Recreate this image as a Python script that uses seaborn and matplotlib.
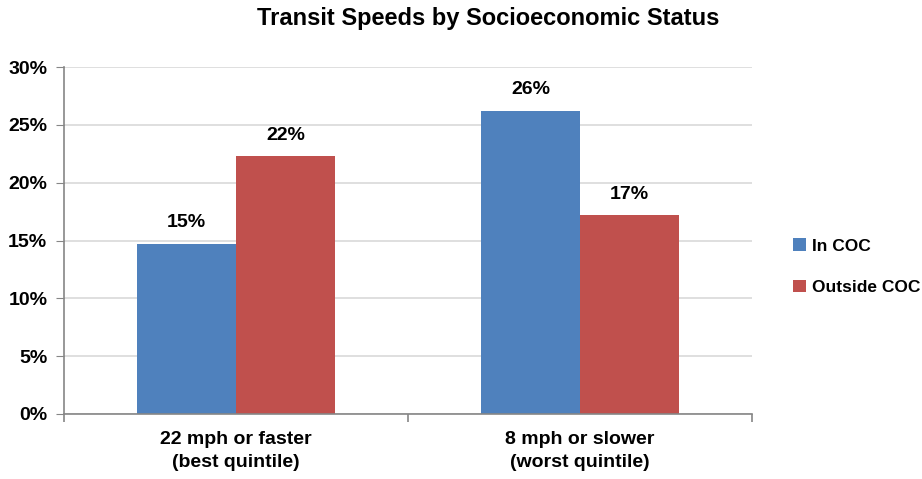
import pandas as pd
import matplotlib
matplotlib.use("Agg")
import matplotlib.pyplot as plt
import seaborn as sns
from matplotlib.ticker import FixedLocator, PercentFormatter

# データ
categories = ["22 mph or faster\n(best quintile)", "8 mph or slower\n(worst quintile)"]
groups = ["In COC", "Outside COC"]
in_coc = [14.7, 26.2]
outside_coc = [22.3, 17.2]
bar_labels_in = ["15%", "26%"]
bar_labels_out = ["22%", "17%"]
colors = ["#4F81BD", "#C0504D"]

sns.set_style("white")
plt.rcParams["font.family"] = ["Liberation Sans", "DejaVu Sans"]
plt.rcParams["text.color"] = "black"
plt.rcParams["xtick.color"] = "black"
plt.rcParams["ytick.color"] = "black"

df = pd.DataFrame({
    "category": categories * 2,
    "group": [groups[0]] * 2 + [groups[1]] * 2,
    "value": in_coc + outside_coc,
})

fig = plt.figure(figsize=(9.22, 4.79), dpi=100)
ax = fig.add_axes([64 / 922, 65 / 479, 688 / 922, 347 / 479])

sns.barplot(data=df, x="category", y="value", hue="group", palette=colors,
            width=0.576, saturation=1, linewidth=0, ax=ax, legend=True)

# 値ラベル
for cont, labs in zip(ax.containers, [bar_labels_in, bar_labels_out]):
    ax.bar_label(cont, labels=labs, padding=9, fontsize=14, fontweight="bold")

ax.set_xlim(-0.5, 1.5)
ax.set_ylim(0, 30)
ax.set_yticks([0, 5, 10, 15, 20, 25, 30])
ax.yaxis.set_major_formatter(PercentFormatter(decimals=0))
ax.yaxis.grid(True, color="#D9D9D9", linewidth=1.2)
ax.set_axisbelow(True)
ax.set_xlabel("")
ax.set_ylabel("")

for s in ["top", "right"]:
    ax.spines[s].set_visible(False)
for s in ["left", "bottom"]:
    ax.spines[s].set_color("#868686")
    ax.spines[s].set_linewidth(1.2)

ax.tick_params(axis="y", left=True, length=6, color="#868686", labelsize=14, pad=6)
ax.tick_params(axis="x", which="major", bottom=False, length=0, labelsize=14, pad=12)
ax.xaxis.set_minor_locator(FixedLocator([-0.5, 0.5, 1.5]))
ax.tick_params(axis="x", which="minor", bottom=True, length=6, width=1.2, color="#868686")
for lab in ax.get_xticklabels() + ax.get_yticklabels():
    lab.set_fontweight("bold")
    lab.set_color("black")
for lab in ax.get_xticklabels():
    lab.set_linespacing(1.45)

fig.text(488 / 922, 1 - 18 / 479, "Transit Speeds by Socioeconomic Status",
         fontsize=17, fontweight="bold", ha="center", va="center")

leg = ax.legend(loc="center left", bbox_to_anchor=(1.05, 0.425), frameon=False,
                handlelength=0.75, handleheight=0.75, handletextpad=0.3,
                labelspacing=1.5, borderaxespad=0, prop={"weight": "bold", "size": 12.5})

fig.savefig("out.png", dpi=100)
